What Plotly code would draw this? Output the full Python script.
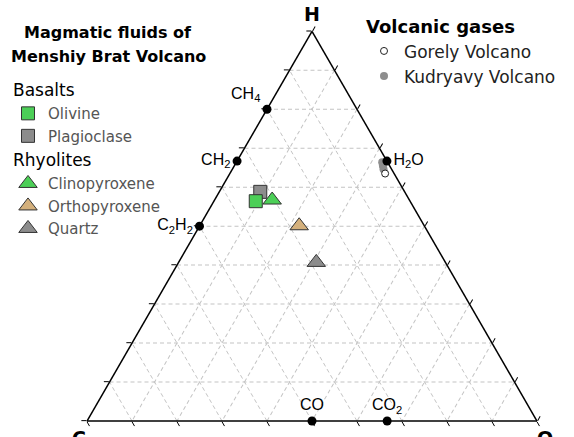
import plotly.graph_objects as go

# ---------------- data (atomic fractions H, C, O) ----------------
# Magmatic fluids of Menshiy Brat Volcano
olivine_H = [0.564]
olivine_C = [0.343]
olivine_O = [0.093]

plagioclase_H = [0.588]
plagioclase_C = [0.321]
plagioclase_O = [0.091]

clinopyroxene_H = [0.567]
clinopyroxene_C = [0.305]
clinopyroxene_O = [0.128]

orthopyroxene_H = [0.501]
orthopyroxene_C = [0.278]
orthopyroxene_O = [0.221]

quartz_H = [0.407]
quartz_C = [0.287]
quartz_O = [0.306]

# Volcanic gases
gorely_H = [0.635]
gorely_C = [0.020]
gorely_O = [0.345]

kudryavy_H = [0.664, 0.655, 0.646]
kudryavy_C = [0.012, 0.015, 0.018]
kudryavy_O = [0.324, 0.330, 0.336]

# Reference compounds
ref_labels = ["CH<sub>4</sub>", "CH<sub>2</sub>", "C<sub>2</sub>H<sub>2</sub>",
              "H<sub>2</sub>O", "CO", "CO<sub>2</sub>"]
ref_H = [0.8, 0.667, 0.5, 0.667, 0.0, 0.0]
ref_C = [0.2, 0.333, 0.5, 0.0, 0.5, 0.333]
ref_O = [0.0, 0.0, 0.0, 0.333, 0.5, 0.667]

# ---------------- styles ----------------
ref_textpos = ["top left", "middle left", "middle left", "middle right",
               "top center", "top center"]
GREEN = "#4ccf57"
GRAY = "#8c8c8c"
TAN = "#d4b07c"
OUTLINE = dict(color="#333333", width=1)
FONT = "DejaVu Sans"

fig = go.Figure()

def add(name, H, C, O, symbol, color, size, group, rank, gtitle=None):
    kw = dict(legendgroup=group)
    if gtitle:
        kw["legendgrouptitle"] = dict(text=gtitle, font=dict(size=17, color="black", family=FONT))
    fig.add_trace(go.Scatterternary(
        a=H, b=C, c=O, mode="markers", name=name, legendrank=rank,
        marker=dict(symbol=symbol, color=color, size=size, line=OUTLINE),
        legend="legend", cliponaxis=False, **kw))

add("Plagioclase", plagioclase_H, plagioclase_C, plagioclase_O, "square", GRAY, 13, "bas", 2)
add("Olivine", olivine_H, olivine_C, olivine_O, "square", GREEN, 13, "bas", 1, "Basalts")
add("Clinopyroxene", clinopyroxene_H, clinopyroxene_C, clinopyroxene_O, "triangle-up", GREEN, 16, "rhy", 3, "Rhyolites")
add("Orthopyroxene", orthopyroxene_H, orthopyroxene_C, orthopyroxene_O, "triangle-up", TAN, 16, "rhy", 4)
add("Quartz", quartz_H, quartz_C, quartz_O, "triangle-up", GRAY, 16, "rhy", 5)

fig.add_trace(go.Scatterternary(
    a=kudryavy_H, b=kudryavy_C, c=kudryavy_O, mode="markers", name="Kudryavy Volcano",
    marker=dict(symbol="circle", color="#8e8e8e", size=8, line=dict(width=0)),
    legend="legend2", cliponaxis=False, legendrank=2))
fig.add_trace(go.Scatterternary(
    a=gorely_H, b=gorely_C, c=gorely_O, mode="markers", name="Gorely Volcano",
    marker=dict(symbol="circle", color="white", size=7, line=dict(color="#222", width=1)),
    legend="legend2", cliponaxis=False, legendrank=1))

fig.add_trace(go.Scatterternary(
    a=ref_H, b=ref_C, c=ref_O, mode="markers+text", text=ref_labels,
    textposition=ref_textpos, textfont=dict(family="Liberation Sans", size=16, color="black"),
    marker=dict(symbol="circle", color="black", size=9), showlegend=False,
    cliponaxis=False, hoverinfo="skip"))

axis_common = dict(showticklabels=False, ticks="outside", ticklen=5, tickcolor="black",
                   tickwidth=1, tick0=0, dtick=0.1, linecolor="black", linewidth=1.5,
                   showgrid=True, gridcolor="#c4c4c4", gridwidth=1, griddash="4px,3px",
                   layer="below traces")

def title(t):
    return dict(text=t, font=dict(family=FONT, size=19, color="black", weight="bold"))

fig.update_layout(
    width=574, height=437, margin=dict(l=0, r=0, t=0, b=0),
    paper_bgcolor="white", plot_bgcolor="white",
    font=dict(family=FONT),
    ternary=dict(
        sum=1, bgcolor="white",
        domain=dict(x=[87/574, 537/574], y=[0.0125, 0.9525]),
        aaxis=dict(title=title("H"), **axis_common),
        baxis=dict(title=title("C"), **axis_common),
        caxis=dict(title=title("O"), **axis_common),
    ),
    legend=dict(x=8/574, y=(437-72)/437, xanchor="left", yanchor="top",
                bgcolor="rgba(0,0,0,0)", traceorder="grouped", tracegroupgap=0,
                font=dict(family=FONT, size=15, color="#555555")),
    legend2=dict(x=364/574, y=(437-10)/437, xanchor="left", yanchor="top",
                 bgcolor="rgba(0,0,0,0)",
                 title=dict(text="Volcanic gases", side="top",
                            font=dict(family=FONT, size=18, color="black", weight="bold")),
                 font=dict(family=FONT, size=17, color="#222222")),
    annotations=[
        dict(text="Magmatic fluids of", x=108/574, y=(437-33)/437, xref="paper", yref="paper",
             showarrow=False, xanchor="center", yanchor="middle",
             font=dict(family=FONT, size=16, color="black", weight="bold")),
        dict(text="Menshiy Brat Volcano", x=108/574, y=(437-56)/437, xref="paper", yref="paper",
             showarrow=False, xanchor="center", yanchor="middle",
             font=dict(family=FONT, size=16, color="black", weight="bold")),
    ],
)

fig.write_html("out.html", config={"displayModeBar": False},
               post_script="document.body.style.margin='0px';")
